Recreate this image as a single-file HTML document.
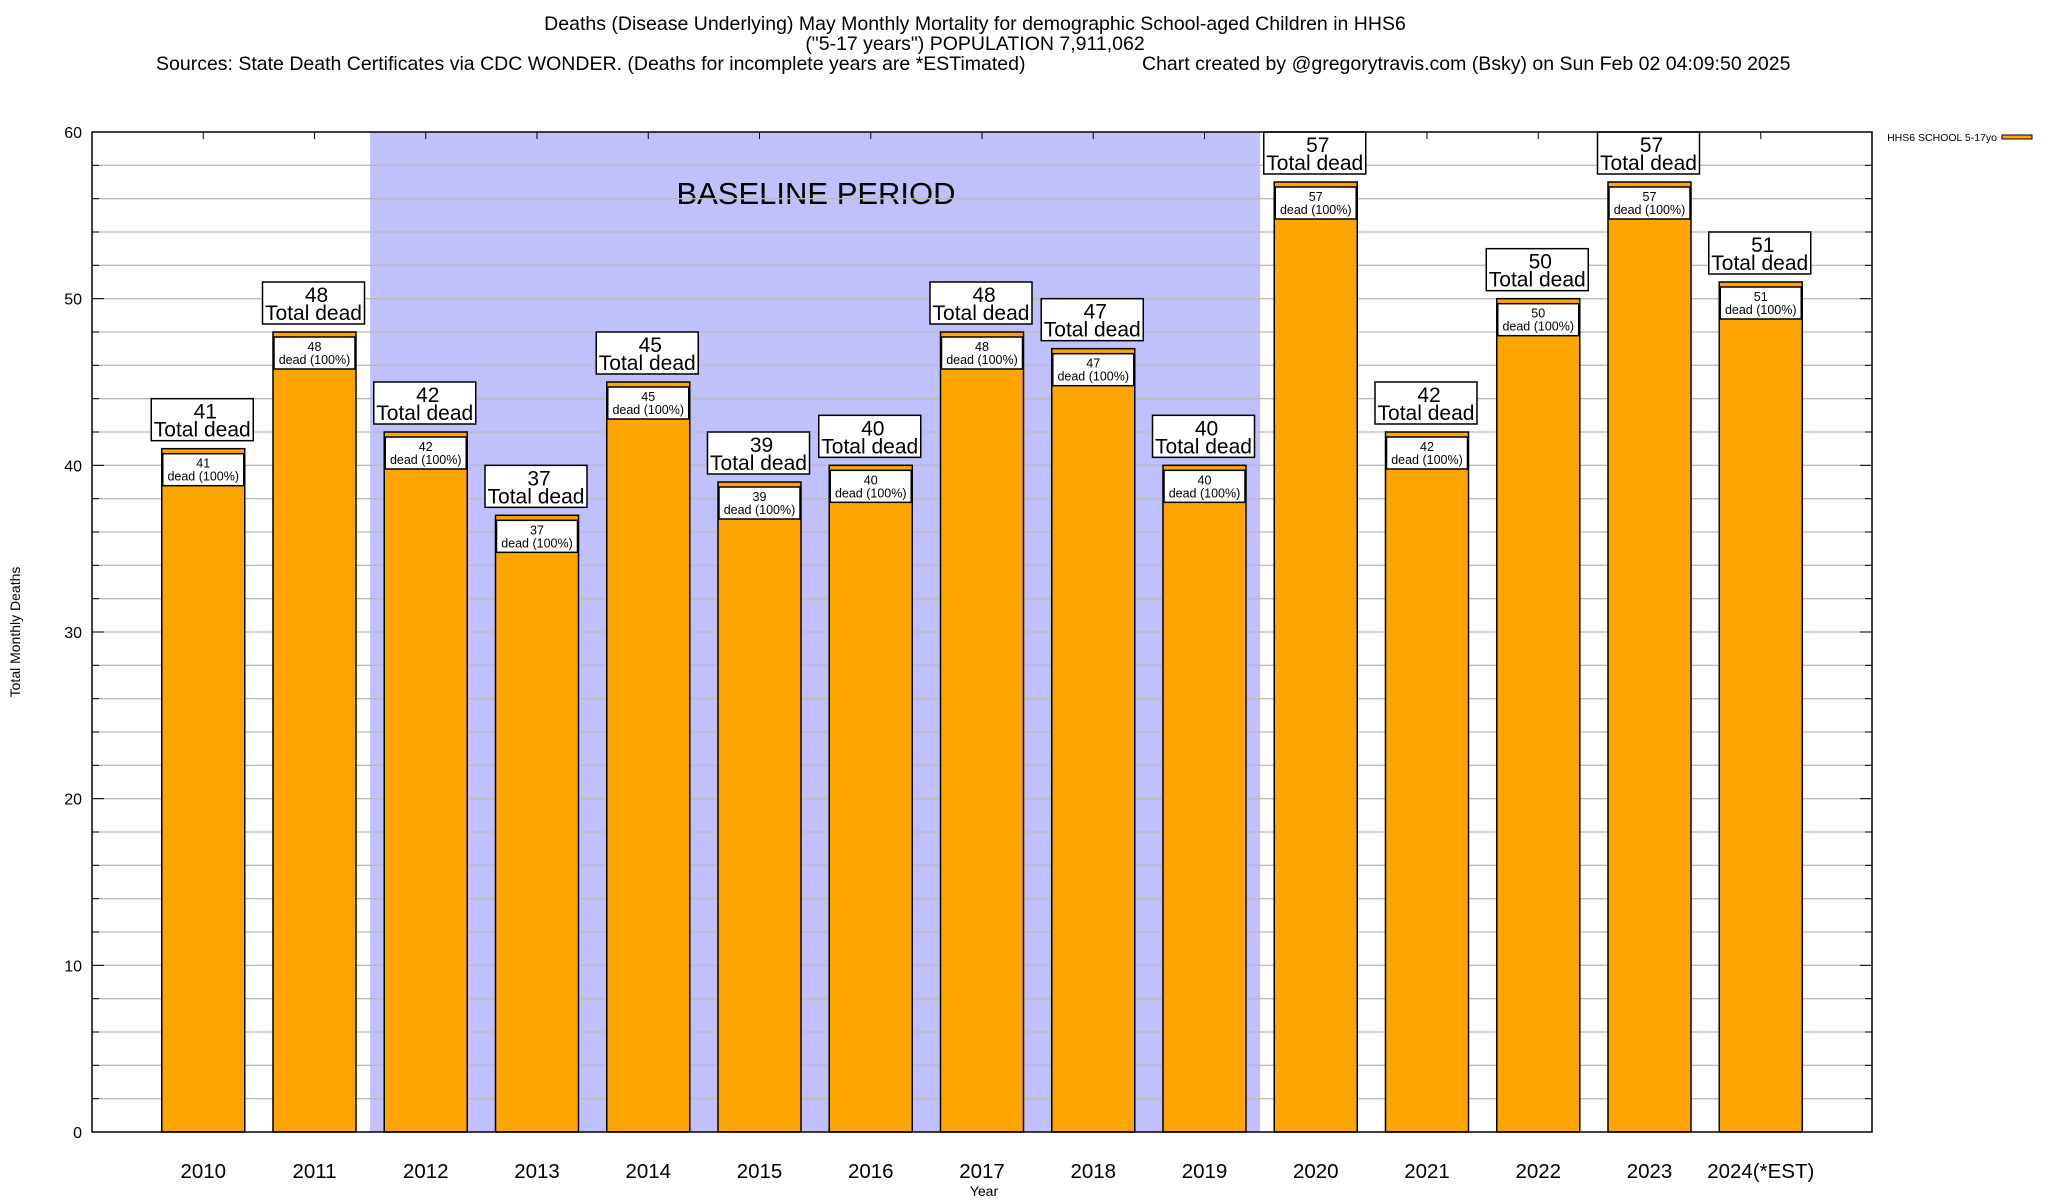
<!DOCTYPE html>
<html><head><meta charset="utf-8"><style>
body{margin:0;background:#fff;}
svg{display:block;font-family:"Liberation Sans",Arial,sans-serif;}
</style></head><body>
<svg id="chart" width="2048" height="1200" viewBox="0 0 2048 1200">
<g font-size="19.5" fill="#000">
<text x="975" y="30" text-anchor="middle">Deaths (Disease Underlying) May Monthly Mortality for demographic School-aged Children in HHS6</text>
<text x="975" y="50" text-anchor="middle">("5-17 years") POPULATION 7,911,062</text>
<text x="156" y="70">Sources: State Death Certificates via CDC WONDER. (Deaths for incomplete years are *ESTimated)</text>
<text x="1142" y="70">Chart created by @gregorytravis.com (Bsky) on Sun Feb 02 04:09:50 2025</text>
</g>
<g id="plot"></g>
<text x="20" y="632" font-size="14" text-anchor="middle" transform="rotate(-90 20 632)">Total Monthly Deaths</text>
<text x="984" y="1196" font-size="14" text-anchor="middle">Year</text>
<g>
<text x="1997" y="141" font-size="10.5" text-anchor="end">HHS6 SCHOOL 5-17yo</text>
<rect x="2002" y="135" width="30" height="4" fill="#ffa500" stroke="#000" stroke-width="1"/>
</g>
</svg>
<script>
const categories=["2010","2011","2012","2013","2014","2015","2016","2017","2018","2019","2020","2021","2022","2023","2024(*EST)"];
const values=[41,48,42,37,45,39,40,48,47,40,57,42,50,57,51];
const yTicks=[0,10,20,30,40,50,60];
const baselineStart=2, baselineEnd=9;
const L=92,R=1872,T=132,B=1132,YMAX=60;
const step=(R-L)/16;
function xs(i){return L+step*(i+1);}
function ys(v){return B-(B-T)*v/YMAX;}
const NS="http://www.w3.org/2000/svg";
const g=document.getElementById('plot');
function el(tag,attrs,parent){const e=document.createElementNS(NS,tag);for(const k in attrs)e.setAttribute(k,attrs[k]);(parent||g).appendChild(e);return e;}
const sh=el('rect',{x:xs(baselineStart)-step/2,y:T,width:xs(baselineEnd)-xs(baselineStart)+step,height:B-T,fill:'#c0c0fc'});


const bt=el('text',{x:816,y:204,'font-size':31,'text-anchor':'middle'});bt.textContent='BASELINE PERIOD';


for(let v=2;v<YMAX;v+=2){const l=el('line',{x1:L,x2:R,y1:ys(v),y2:ys(v),stroke:'#bbb','stroke-width':1.3});

}
for(let v=0;v<=YMAX;v+=2){const len=(v%10===0)?12:7;el('line',{x1:L,x2:L+len,y1:ys(v),y2:ys(v),stroke:'#000'});el('line',{x1:R-len,x2:R,y1:ys(v),y2:ys(v),stroke:'#000'});}
yTicks.forEach(v=>{const t=el('text',{x:L-10,y:ys(v)+6,'font-size':16,'text-anchor':'end'});t.textContent=v;

});
categories.forEach((c,i)=>{
 const cx=xs(i),v=values[i],w=83,top=ys(v);
 const b=el('rect',{x:cx-w/2,y:top,width:w,height:B-top,fill:'#ffa500',stroke:'#000','stroke-width':1.5});
 
 
 el('line',{x1:cx,x2:cx,y1:T,y2:T+7,stroke:'#000'});
 const ib=el('rect',{x:cx-40.5,y:top+5,width:81,height:32,fill:'#fff',stroke:'#000','stroke-width':1.5});
 
 
 const t1=el('text',{x:cx,y:top+19,'font-size':12.5,'text-anchor':'middle'});t1.textContent=v;
 const t2=el('text',{x:cx,y:top+32,'font-size':12.5,'text-anchor':'middle'});t2.textContent='dead (100%)';
 const ob=el('rect',{x:cx-52,y:top-50,width:102,height:42,fill:'#fff',stroke:'#000','stroke-width':1.5});
 
 
 const t3=el('text',{x:cx+2,y:top-30,'font-size':21,'text-anchor':'middle'});t3.textContent=v;
 
 
 const t4=el('text',{x:cx-1,y:top-12,'font-size':21,'text-anchor':'middle'});t4.textContent='Total dead';
 const xl=el('text',{x:cx,y:1178,'font-size':20.5,'text-anchor':'middle'});xl.textContent=c;
 
 
});
const fr=el('rect',{x:L,y:T,width:R-L,height:B-T,fill:'none',stroke:'#000','stroke-width':1.5});


</script>
</body></html>
